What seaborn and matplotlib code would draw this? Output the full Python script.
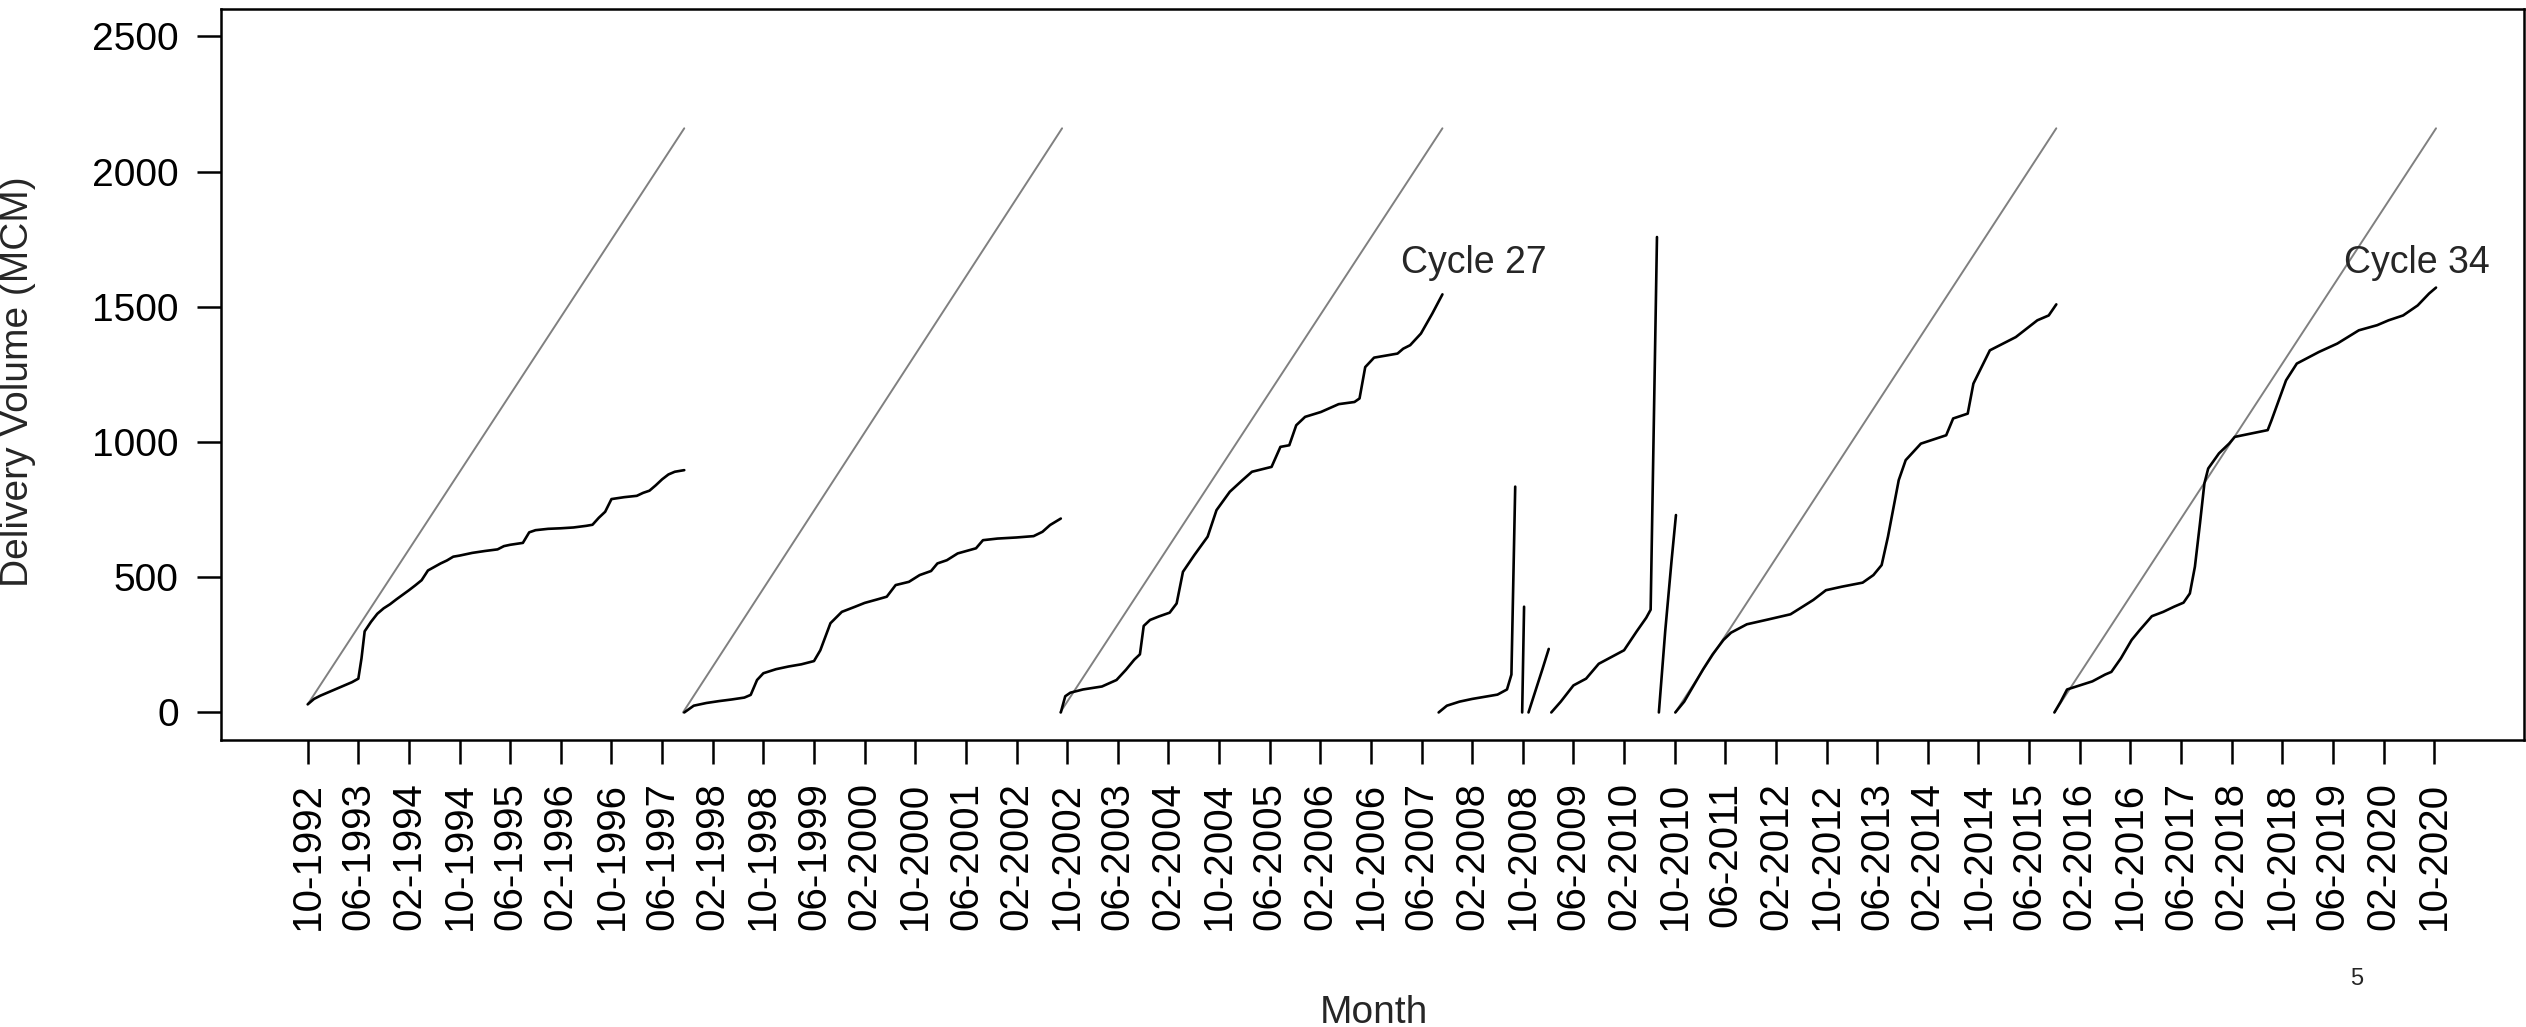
import numpy as np
import pandas as pd
import matplotlib
matplotlib.use("Agg")
import matplotlib.pyplot as plt
import seaborn as sns

# month offset from 10-1992 (tick every 8 months), cumulative delivery (MCM)
tick_months = list(range(0, 337, 8))
tick_labels = []
for m in tick_months:
    mm = (10 + m - 1) % 12 + 1
    yy = 1992 + (10 + m - 1) // 12
    tick_labels.append(f"{mm:02d}-{yy}")

c1_month = [0, 1, 2, 3, 4, 5, 6, 7, 8, 8.5, 9, 10, 11, 12, 13, 14, 15, 16, 17, 18, 19, 20, 21, 22, 23, 24,
            26, 28, 30, 31, 32, 34, 35, 36, 38, 40, 42, 44, 45, 46, 47, 48, 50, 52, 53, 54, 55, 56, 57, 58, 59.5]
c1_value = [30, 50, 62, 72, 82, 92, 102, 112, 125, 200, 300, 335, 365, 385, 400, 418, 435, 452, 470, 489, 525,
            538, 551, 562, 576, 580, 590, 597, 603, 615, 620, 627, 666, 674, 679, 681, 684, 690, 694, 720, 742,
            789, 796, 801, 812, 820, 840, 862, 880, 890, 896]

c2_month = [59.5, 61, 63, 65, 67, 69, 70, 71, 72, 74, 76, 78, 80, 81, 82.6, 84.4, 86.5, 88, 90, 91.5, 92.9,
            95, 96.7, 98.5, 99.5, 101, 102.7, 105.6, 106.7, 109, 112, 114.7, 116.1, 117.3, 119]
c2_value = [0, 25, 35, 42, 48, 55, 65, 120, 145, 160, 170, 178, 190, 230, 330, 372, 391, 405, 418, 428, 471,
            483, 508, 523, 551, 563, 588, 607, 637, 643, 647, 652, 668, 693, 717]

c3_month = [119, 119.7, 120.5, 122.5, 125.5, 127.8, 129.3, 130.6, 131.5, 132.1, 133.1, 134.5, 136.2, 137.3,
            138.3, 140.1, 142.2, 143.6, 145.7, 147.7, 149.2, 152.3, 153.7, 155.1, 156.2, 157.6, 160.1, 162.9,
            165.4, 166.2, 167.1, 168.5, 172.2, 173.1, 174.2, 175.9, 177.7, 179.3]
c3_value = [0, 60, 73, 85, 96, 120, 158, 195, 215, 320, 342, 355, 369, 403, 520, 582, 650, 748, 816, 859, 890,
            908, 982, 988, 1062, 1093, 1111, 1140, 1148, 1161, 1277, 1312, 1327, 1345, 1358, 1401, 1475, 1546]

c28_month = [178.7, 180, 182, 184, 186, 188, 189.5, 190.2, 190.8]
c28_value = [0, 25, 40, 50, 58, 66, 85, 140, 835]

c29_month = [191.9, 192.2]
c29_value = [0, 391]

c30_month = [192.9, 194.3, 195.1, 196.1]
c30_value = [0, 102, 160, 235]

c31_month = [196.5, 198, 200, 202, 204, 206, 208, 210, 211.5, 212.2, 213.2]
c31_value = [0, 40, 100, 125, 180, 205, 230, 300, 350, 380, 1758]

c32_month = [213.5, 214.5, 215.5, 216.2]
c32_value = [0, 300, 560, 730]

c33_month = [216.1, 217.5, 219, 220.5, 222, 223.7, 224.9, 227.4, 230.8, 234.3, 235.8, 237.9, 239.9, 242.4,
             245.7, 247.4, 248.7, 249.7, 250.7, 251.4, 252.5, 254.9, 258.9, 260.0, 262.3, 263.2, 265.8,
             269.9, 273.3, 275.1, 276.3]
c33_value = [0, 40, 100, 160, 215, 268, 295, 326, 344, 363, 385, 416, 452, 465, 480, 508, 545, 650, 773, 859,
             933, 994, 1025, 1087, 1105, 1216, 1339, 1388, 1450, 1468, 1509]

c34_month = [276, 277, 278, 280, 282, 284, 285, 286.5, 288.2, 289.5, 291.4, 293.2, 294.9, 296.4, 297.4, 298.2,
             299.0, 299.7, 300.3, 302.0, 303.6, 304.5, 309.7, 310.3, 312.6, 314.3, 317.8, 320.7, 324.1, 327.0,
             328.8, 331.1, 333.4, 335.2, 336.3]
c34_value = [0, 40, 85, 100, 115, 140, 150, 200, 268, 305, 356, 372, 391, 406, 440, 539, 699, 847, 902, 958,
             994, 1019, 1044, 1080, 1228, 1290, 1333, 1364, 1413, 1432, 1450, 1468, 1505, 1549, 1571]

# target lines: start month, start value, end month, end value
target_cycle = ["1", "2", "27", "33", "34"]
target_start_month = [0, 59.3, 118.9, 216.1, 276]
target_start_value = [30, 0, 0, 0, 0]
target_end_month = [59.5, 119.2, 179.3, 276.3, 336.3]
target_end_value = [2160, 2160, 2160, 2160, 2160]

curves = [("1", c1_month, c1_value), ("2", c2_month, c2_value), ("27", c3_month, c3_value),
          ("28", c28_month, c28_value), ("29", c29_month, c29_value), ("30", c30_month, c30_value),
          ("31", c31_month, c31_value), ("32", c32_month, c32_value), ("33", c33_month, c33_value),
          ("34", c34_month, c34_value)]

rows = []
for name, ms, vs in curves:
    for m, v in zip(ms, vs):
        rows.append({"cycle": name, "month": m, "volume": v})
df = pd.DataFrame(rows)

trows = []
for c, sm, sv, em, ev in zip(target_cycle, target_start_month, target_start_value,
                             target_end_month, target_end_value):
    trows.append({"cycle": c, "month": sm, "volume": sv})
    trows.append({"cycle": c, "month": em, "volume": ev})
tdf = pd.DataFrame(trows)

sns.set_theme(style="white")
plt.rcParams["font.family"] = ["Liberation Sans", "DejaVu Sans"]

fig = plt.figure(figsize=(25.26, 10.27), dpi=100)
ax = fig.add_axes([221 / 2526, 1 - 739.5 / 1027, (2524 - 221) / 2526, (739.5 - 9.3) / 1027])

sns.lineplot(data=tdf, x="month", y="volume", units="cycle", estimator=None, sort=False,
             color="#808080", linewidth=1.4, ax=ax)
sns.lineplot(data=df, x="month", y="volume", units="cycle", estimator=None, sort=False,
             color="black", linewidth=1.9, ax=ax)

ax.text(184.2, 1662, "Cycle 27", fontsize=27, ha="center", va="center")
ax.text(333.2, 1662, "Cycle 34", fontsize=27, ha="center", va="center")

ax.set_xlim(-13.7, 350.2)
ax.set_ylim(-100, 2600)
ax.set_xticks(tick_months)
ax.set_xticklabels(tick_labels, rotation=90)
ax.set_yticks([0, 500, 1000, 1500, 2000, 2500])
ax.tick_params(axis="both", direction="out", length=17.5, width=1.8, labelsize=28, pad=13,
               bottom=True, left=True, colors="black")
ax.tick_params(axis="x", labelsize=29)
for sp in ax.spines.values():
    sp.set_linewidth(1.8)
    sp.set_color("black")

ax.set_xlabel("Month", fontsize=28)
ax.set_ylabel("Delivery Volume (MCM)", fontsize=28)
ax.xaxis.set_label_coords(1374 / 2526, 1 - 995 / 1027, transform=fig.transFigure)
ax.yaxis.set_label_coords(36 / 2526, 1 - 382 / 1027, transform=fig.transFigure)

fig.text(2357 / 2526, 1 - 979 / 1027, "5", fontsize=17, ha="center", va="center")

fig.savefig("out.png", dpi=100)
